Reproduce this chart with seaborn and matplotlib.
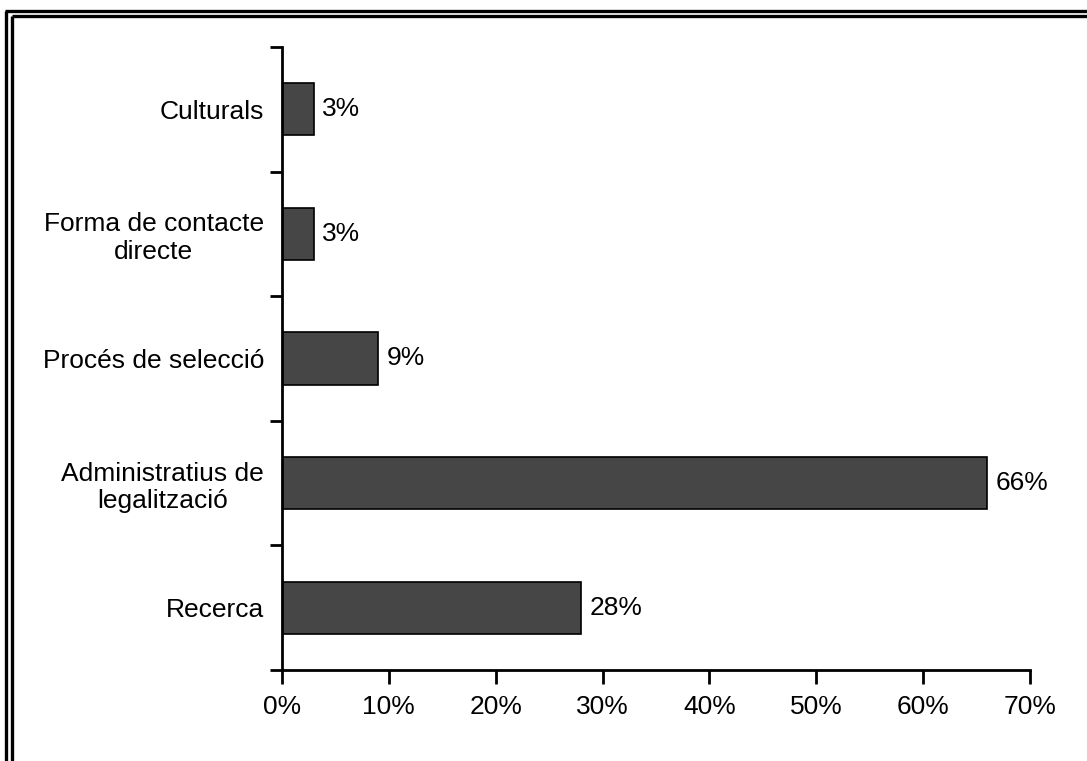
import matplotlib
matplotlib.use("Agg")
import matplotlib.pyplot as plt
from matplotlib.lines import Line2D
from matplotlib.ticker import FixedLocator, PercentFormatter
import seaborn as sns
import pandas as pd

categories = [
    "Culturals",
    "Forma de contacte\ndirecte",
    "Procés de selecció",
    "Administratius de\nlegalització",
    "Recerca",
]
values = [3, 3, 9, 66, 28]
x_ticks = [0, 10, 20, 30, 40, 50, 60, 70]

df = pd.DataFrame({"categoria": categories, "percentatge": values})

sns.set_theme(style="white")
plt.rcParams["font.family"] = ["Liberation Sans", "DejaVu Sans"]
FS = 19

W, H = 1087, 761
fig = plt.figure(figsize=(W / 100, H / 100), dpi=100)
ax = fig.add_axes([282 / W, 1 - 670 / H, (1030 - 282) / W, (670 - 47) / H])

sns.barplot(data=df, y="categoria", x="percentatge", order=categories,
            color="#464646", edgecolor="black", linewidth=1.2,
            width=0.42, saturation=1, ax=ax)

for c in ax.containers:
    ax.bar_label(c, labels=[f"{v}%" for v in values], padding=6,
                 fontsize=FS, color="black")

ax.set_xlim(0, 70)
ax.set_ylim(len(categories) - 0.5, -0.5)
ax.set_xlabel("")
ax.set_ylabel("")

# x axis: percentage ticks
ax.xaxis.set_major_locator(FixedLocator(x_ticks))
ax.xaxis.set_major_formatter(PercentFormatter(decimals=0))
ax.tick_params(axis="x", direction="out", length=10, width=2, color="black",
               labelsize=FS, pad=8, bottom=True, labelcolor="black")

# y axis: ticks at category boundaries, labels at category centres
ax.yaxis.set_major_locator(FixedLocator([i - 0.5 for i in range(len(categories) + 1)]))
ax.yaxis.set_minor_locator(FixedLocator(list(range(len(categories)))))
ax.set_yticklabels([], minor=False)
ax.set_yticklabels(categories, minor=True)
ax.tick_params(axis="y", which="major", direction="out", length=9, width=2,
               color="black", left=True)
ax.tick_params(axis="y", which="minor", length=0, labelsize=FS, pad=13,
               labelcolor="black")
for lbl in ax.get_yticklabels(minor=True):
    lbl.set_multialignment("center")

for side in ["top", "right"]:
    ax.spines[side].set_visible(False)
for side in ["left", "bottom"]:
    ax.spines[side].set_color("black")
    ax.spines[side].set_linewidth(2)

# double frame along top and left edges
def px_line(xs, ys, lw):
    fig.add_artist(Line2D([x / W for x in xs], [1 - y / H for y in ys],
                          transform=fig.transFigure, color="black", lw=lw,
                          solid_capstyle="butt"))

px_line([5, W], [10.5, 10.5], 2.4)
px_line([12, W], [16, 16], 2.4)
px_line([6, 6], [10.5, H], 2.4)
px_line([12, 12], [16, H], 2.4)

fig.savefig("out.png", dpi=100)
